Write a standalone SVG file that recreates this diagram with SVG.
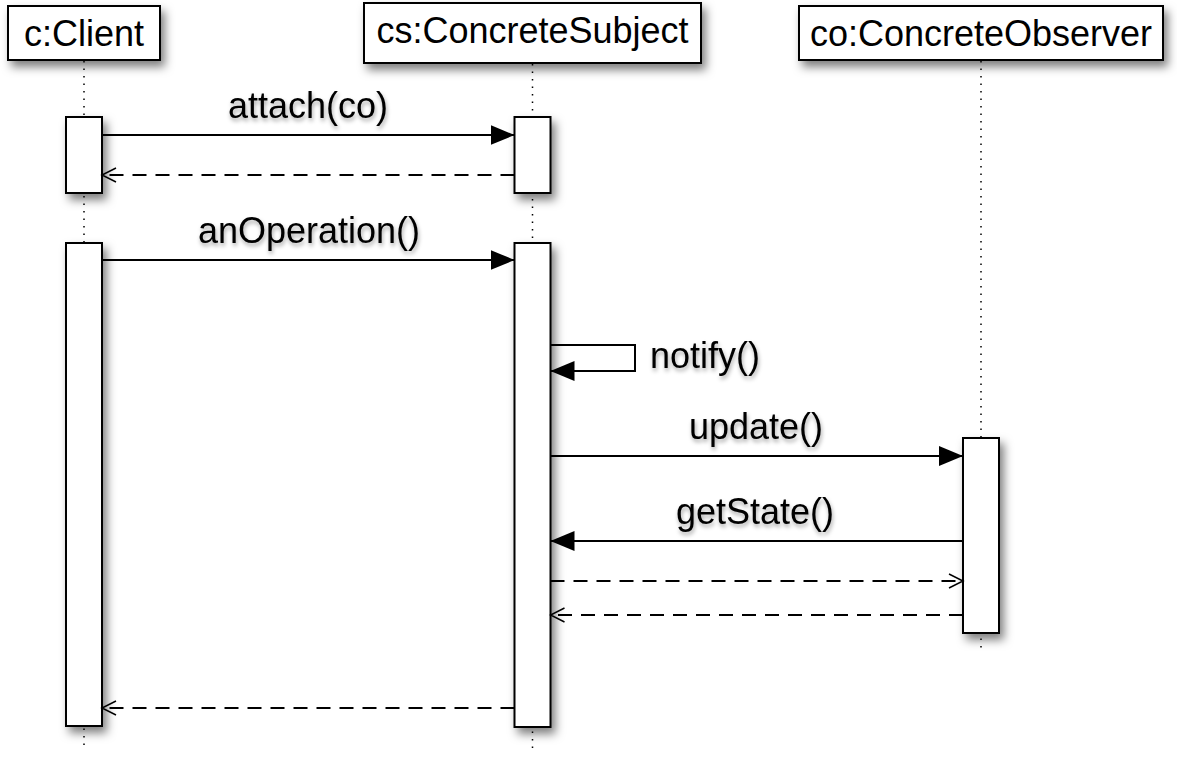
<svg xmlns="http://www.w3.org/2000/svg" width="1177" height="758" viewBox="0 0 1177 758">
<style>
  .box { fill: #fff; stroke: #000; stroke-width: 2; filter: url(#shadow); }
  .act { fill: #fff; stroke: #000; stroke-width: 2; filter: url(#shadow); }
  .life { stroke: #000; stroke-width: 1.5; stroke-dasharray: 1.5 6; fill: none; }
  .msg { stroke: #000; stroke-width: 2; fill: none; marker-end: url(#filled); }
  .ret { stroke: #000; stroke-width: 2; fill: none; stroke-dasharray: 14 9; marker-end: url(#open); }
  text { font-family: "Liberation Sans", Arial, sans-serif; font-size: 36px; fill: #000; }
  .lbl { filter: url(#tshadow); }
</style>
<defs>
  <filter id="shadow" x="-50%" y="-50%" width="200%" height="200%">
    <feDropShadow dx="4" dy="6" stdDeviation="5" flood-color="#000" flood-opacity="0.5"/>
  </filter>
  <filter id="tshadow" x="-20%" y="-40%" width="140%" height="180%">
    <feDropShadow dx="1" dy="3" stdDeviation="2" flood-color="#000" flood-opacity="0.35"/>
  </filter>
  <marker id="filled" markerUnits="userSpaceOnUse" markerWidth="24" markerHeight="20" refX="24" refY="10" orient="auto">
    <path d="M0,0 L24,10 L0,20 Z" fill="#000"/>
  </marker>
  <marker id="open" markerUnits="userSpaceOnUse" markerWidth="17" markerHeight="18" refX="15" refY="8" orient="auto">
    <path d="M1,1 L15,8 L1,15" fill="none" stroke="#000" stroke-width="1.5"/>
  </marker>
</defs>

<g id="lifelines">
  <line class="life" x1="84" y1="61" x2="84" y2="746"/>
  <line class="life" x1="532.5" y1="64" x2="532.5" y2="748"/>
  <line class="life" x1="981" y1="61" x2="981" y2="650"/>
</g>

<g id="client">
  <rect class="box" x="8" y="6" width="152" height="54"/>
  <text x="84" y="46" text-anchor="middle">c:Client</text>
  <rect class="act" x="66" y="117" width="36" height="76"/>
  <rect class="act" x="66" y="243" width="36" height="483"/>
</g>

<g id="subject">
  <rect class="box" x="364" y="3" width="337" height="60"/>
  <text x="532.5" y="43" text-anchor="middle">cs:ConcreteSubject</text>
  <rect class="act" x="514.5" y="117" width="36" height="76"/>
  <rect class="act" x="514.5" y="243" width="36" height="484"/>
</g>

<g id="observer">
  <rect class="box" x="799" y="6" width="364" height="54"/>
  <text x="981" y="46" text-anchor="middle">co:ConcreteObserver</text>
  <rect class="act" x="963" y="438" width="36" height="195"/>
</g>

<g id="connectors">
  <line class="msg" x1="102" y1="135" x2="514.5" y2="135"/>
  <line class="ret" x1="514.5" y1="175" x2="102" y2="175"/>
  <line class="msg" x1="102" y1="260" x2="514.5" y2="260"/>
  <path class="msg" d="M550.5,345 H635 V371 H550.5"/>
  <line class="msg" x1="550.5" y1="456" x2="963" y2="456"/>
  <line class="msg" x1="963" y1="541" x2="550.5" y2="541"/>
  <line class="ret" x1="550.5" y1="581" x2="963" y2="581"/>
  <line class="ret" x1="963" y1="615" x2="550.5" y2="615"/>
  <line class="ret" x1="514.5" y1="708" x2="102" y2="708"/>
</g>

<g id="labels">
  <text class="lbl" x="308" y="118" text-anchor="middle">attach(co)</text>
  <text class="lbl" x="309" y="243" text-anchor="middle">anOperation()</text>
  <text class="lbl" x="650" y="368">notify()</text>
  <text class="lbl" x="756" y="439" text-anchor="middle">update()</text>
  <text class="lbl" x="755" y="524" text-anchor="middle">getState()</text>
</g>
</svg>
